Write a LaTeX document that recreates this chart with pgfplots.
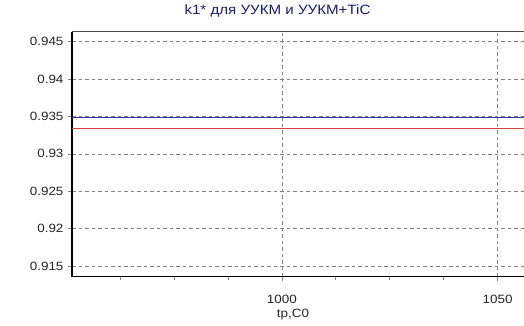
\documentclass[border=0pt]{standalone}
\usepackage{fontspec}
\setmainfont[FakeStretch=1.12]{Liberation Sans}
\usepackage{pgfplots}
\pgfplotsset{compat=1.18}
\definecolor{lineblue}{RGB}{45,60,165}
\definecolor{linered}{RGB}{210,70,55}
\definecolor{titleblue}{RGB}{25,30,110}
\definecolor{gridgray}{RGB}{130,130,130}
\begin{document}
\begin{tikzpicture}
\path[use as bounding box] (-72pt,-48.3pt) rectangle (452pt,276.7pt);
\begin{axis}[
  at={(0pt,0pt)}, anchor=south west,
  scale only axis, width=452pt, height=245.2pt,
  xmin=951.4, xmax=1056.1, ymin=0.91358, ymax=0.94635,
  axis x line*=bottom, axis y line*=left,
  axis line style={black, line width=1.4pt},
  xtick={950,1000,1050}, minor x tick num=3,
  ytick={0.915,0.92,0.925,0.93,0.935,0.94,0.945},
  tick align=outside,
  major tick length=4pt, minor tick length=3pt,
  every tick/.style={gridgray, line width=0.6pt},
  grid=major,
  major grid style={gridgray, dashed, dash pattern=on 3.5pt off 3pt, line width=0.6pt},
  /pgf/number format/assume math mode=true,
  yticklabel style={/pgf/number format/fixed, /pgf/number format/precision=3, xshift=-1pt},
  xticklabel style={/pgf/number format/1000 sep={}, anchor=base, yshift=-22.3pt},
  ticklabel style={font=\fontsize{12}{14}\selectfont, text=black!85},
  xlabel={tp,C0},
  xlabel style={at={(axis description cs:0.489,0)}, anchor=base, yshift=-40.8pt, font=\fontsize{12}{14}\selectfont, text=black!85},
  title={k1* для УУКМ и УУКМ+TiC},
  title style={at={(axis description cs:0.4546,1)}, anchor=base, yshift=10.8pt, font=\fontsize{13.5}{15}\selectfont, text=titleblue},
  clip=false,
]
\draw[black!70, line width=1.2pt] (rel axis cs:0,1) -- (rel axis cs:1,1);
\addplot[linered, line width=1.1pt, no marks] coordinates {(951.4,0.93341) (1056.1,0.93341)};
\addplot[lineblue, line width=1.3pt, no marks] coordinates {(951.4,0.93490) (1056.1,0.93490)};
\end{axis}
\end{tikzpicture}
\end{document}
